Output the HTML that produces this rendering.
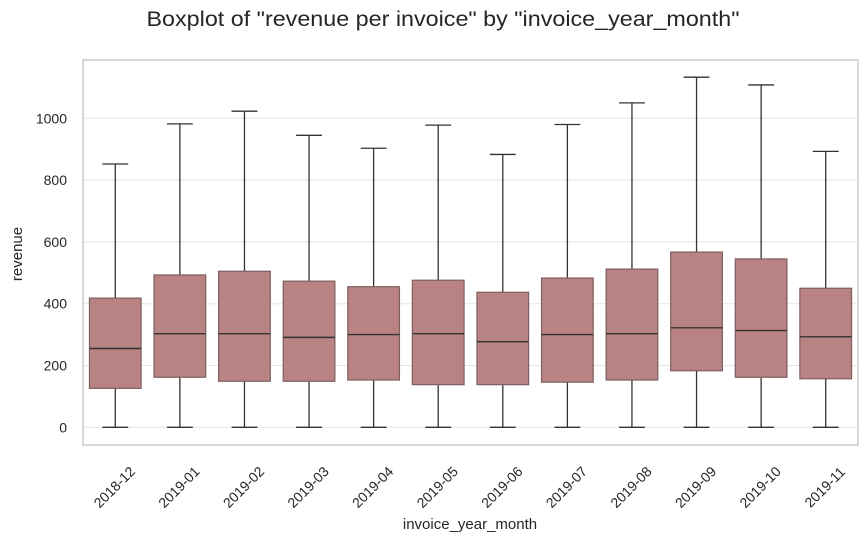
<!DOCTYPE html>
<html><head><meta charset="utf-8"><style>
body{margin:0;background:#fff;font-family:"Liberation Sans",sans-serif}
svg text{font-family:"Liberation Sans",sans-serif;fill:#262626}
</style></head><body>
<svg id="c" width="867" height="543"></svg>
<script>
const categories=["2018-12","2019-01","2019-02","2019-03","2019-04","2019-05","2019-06","2019-07","2019-08","2019-09","2019-10","2019-11"];
const whiskerLow=[0,0,0,0,0,0,0,0,0,0,0,0];
const q1=[126,162,149,149,153,138,138,146,153,183,162,157];
const median=[255,303,303,291,300,303,277,300,303,322,313,293];
const q3=[418,493,505,473,455,476,437,483,512,567,545,450];
const whiskerHigh=[852,982,1023,945,903,978,883,980,1050,1133,1108,893];
const yTicks=[0,200,400,600,800,1000];
const svg=document.getElementById('c');const NS='http://www.w3.org/2000/svg';
const L=83,R=858,T=60,B=445;
const y=v=>427.3-v*0.309;
const band=(R-L)/categories.length;
const x=i=>L+band*(i+0.5);
function mk(t,a,txt){const e=document.createElementNS(NS,t);for(const k in a)e.setAttribute(k,a[k]);if(txt!=null)e.textContent=txt;svg.appendChild(e);return e;}
let e;
e=mk('text',{x:443,y:26,'text-anchor':'middle','font-size':21,textLength:593,lengthAdjust:'spacingAndGlyphs'},'Boxplot of "revenue per invoice" by "invoice_year_month"');

yTicks.forEach(v=>{
 e=mk('line',{x1:L,x2:R,y1:y(v),y2:y(v),stroke:'#e5e5e5','stroke-width':1});
 
 e=mk('text',{x:L-16,y:y(v)+5,'text-anchor':'end','font-size':14},String(v));
 
});
categories.forEach((c,i)=>{
 const cx=x(i),bw=band*0.8,cw=band*0.4;
 e=mk('line',{x1:cx,x2:cx,y1:y(whiskerHigh[i]),y2:y(q3[i]),stroke:'#333','stroke-width':1.3});
 
 e=mk('line',{x1:cx,x2:cx,y1:y(q1[i]),y2:y(whiskerLow[i]),stroke:'#333','stroke-width':1.3});
 
 e=mk('line',{x1:cx-cw/2,x2:cx+cw/2,y1:y(whiskerHigh[i]),y2:y(whiskerHigh[i]),stroke:'#333','stroke-width':1.3});
 
 e=mk('line',{x1:cx-cw/2,x2:cx+cw/2,y1:y(whiskerLow[i]),y2:y(whiskerLow[i]),stroke:'#333','stroke-width':1.3});
 
 e=mk('rect',{x:cx-bw/2,y:y(q3[i]),width:bw,height:y(q1[i])-y(q3[i]),fill:'#b98383',stroke:'#7d5f5f','stroke-width':1.2});
 
 e=mk('line',{x1:cx-bw/2,x2:cx+bw/2,y1:y(median[i]),y2:y(median[i]),stroke:'#333','stroke-width':1.4});
 
 const lx=cx-1,ly=B+42;
 e=mk('text',{x:lx,y:ly+5,'text-anchor':'middle','font-size':14,transform:`rotate(-45 ${lx} ${ly})`},c);
 
});
e=mk('rect',{x:L,y:T,width:R-L,height:B-T,fill:'none',stroke:'#cccccc','stroke-width':1.5});

e=mk('text',{x:470,y:529,'text-anchor':'middle','font-size':15},'invoice_year_month');

e=mk('text',{x:22,y:254,'text-anchor':'middle','font-size':15,transform:'rotate(-90 22 254)'},'revenue');

</script>
</body></html>
